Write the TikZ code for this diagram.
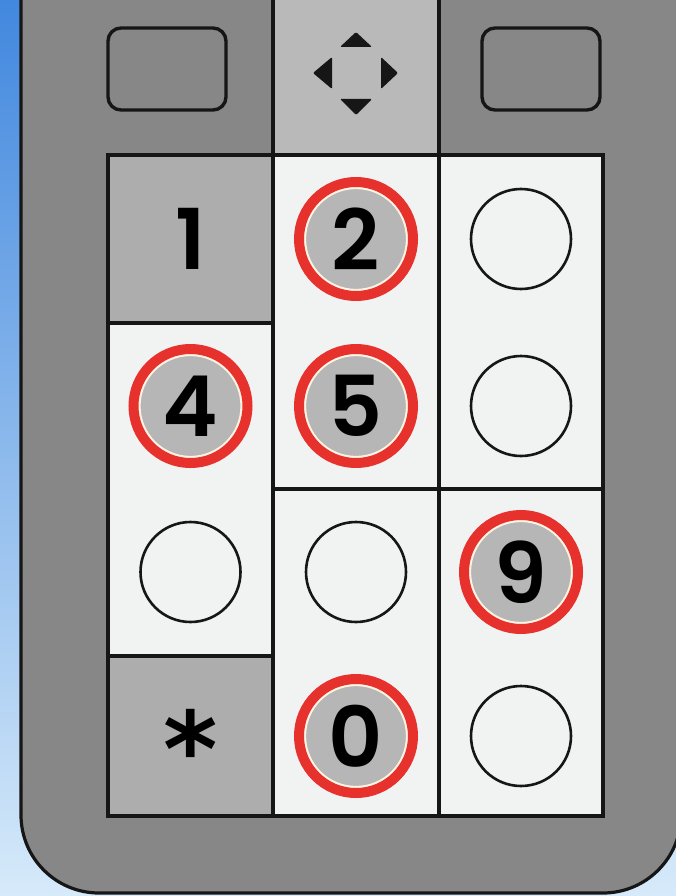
\documentclass[tikz,border=0pt]{standalone}
\usepackage{fontspec}
\setmainfont{Poppins}
\newfontfamily\keyfont{Poppins}[UprightFont=* SemiBold]
\newfontfamily\symfont{DejaVu Sans}
\definecolor{bodygray}{HTML}{878787}
\definecolor{padgray}{HTML}{B9B9B9}
\definecolor{cellgray}{HTML}{ADADAD}
\definecolor{cellwhite}{HTML}{F1F2F2}
\definecolor{keygray}{HTML}{B6B6B6}
\definecolor{keyred}{HTML}{E6312C}
\definecolor{cream}{HTML}{FFF3E2}
\definecolor{bluetop}{HTML}{4288DE}
\definecolor{bluemid}{HTML}{A6CEF2}
\definecolor{bluebot}{HTML}{D6EAFA}
\definecolor{inkline}{HTML}{161616}
\tikzset{
  gridline/.style={draw=inkline, line width=3.6},
  bodyline/.style={draw=inkline, line width=3.2},
  keytext/.style={font=\fontsize{84}{84}\keyfont, text=black, inner sep=0pt},
  plainkey/.style={circle, draw=inkline, line width=2.6, fill=cellwhite, minimum size=100, inner sep=0pt},
  redkey/.style={circle, draw=cream, line width=2.2, fill=keygray, minimum size=102, inner sep=0pt, keytext},
  ring/.style={draw=keyred, line width=10},
  softkey/.style={rectangle, rounded corners=13, draw=inkline, line width=3.4, fill=bodygray, minimum width=118, minimum height=82, inner sep=0pt},
  padarrow/.style={fill=inkline, rounded corners=1.2}
}
\begin{document}
\begin{tikzpicture}[x=1pt,y=-1pt]
\useasboundingbox (0,0) rectangle (676,896);
\begin{scope}
\clip (0,0) rectangle (676,896);
% background
\shade[top color=bluetop, middle color=bluemid, bottom color=bluebot] (0,0) rectangle (676,896);
% body
\path[bodyline, fill=bodygray, rounded corners=78] (21,-40) -- (21,893) -- (681,893) -- (681,-40);
% center top pad
\fill[padgray] (273,-5) rectangle (439,155);
% cells
\fill[cellgray] (108,155) rectangle (273,323);
\fill[cellwhite] (108,323) rectangle (273,656);
\fill[cellgray] (108,656) rectangle (273,816);
\fill[cellwhite] (273,155) rectangle (603,816);
% grid lines
\draw[gridline] (108,155) rectangle (603,816);
\draw[gridline] (273,-5) -- (273,816);
\draw[gridline] (439,-5) -- (439,816);
\draw[gridline] (108,323) -- (273,323);
\draw[gridline] (108,656) -- (273,656);
\draw[gridline] (273,489) -- (603,489);
\end{scope}
% soft keys
\node[softkey] (lsoft) at (167,69) {};
\node[softkey] (rsoft) at (541,69) {};
% navigation pad
\coordinate (nav) at (356,73);
\fill[padarrow] (340,47) -- (356,32) -- (372,47) -- cycle;
\fill[padarrow] (340,99) -- (372,99) -- (356,115) -- cycle;
\fill[padarrow] (332,57) -- (313,73) -- (332,89) -- cycle;
\fill[padarrow] (381,57) -- (398,73) -- (381,89) -- cycle;
% keys
\node[keytext] (k1) at (190.5,239) {1};
\node[redkey] (k2) at (356,239) {2};
\node[plainkey] (k3) at (521,239) {};
\node[redkey] (k4) at (190.5,406) {4};
\node[redkey] (k5) at (356,406) {5};
\node[plainkey] (k6) at (521,406) {};
\node[plainkey] (k7) at (190.5,572) {};
\node[plainkey] (k8) at (356,572) {};
\node[redkey] (k9) at (521,572) {9};
\node[keytext, font=\fontsize{104}{104}\symfont\bfseries, yshift=-10] (kstar) at (190.5,738) {*};
\node[redkey] (k0) at (356,736) {0};
\node[plainkey] (khash) at (521,736) {};
% red rings
\foreach \k in {k2,k4,k5,k9,k0}
  \draw[ring] (\k.center) circle (57);
\end{tikzpicture}
\end{document}
